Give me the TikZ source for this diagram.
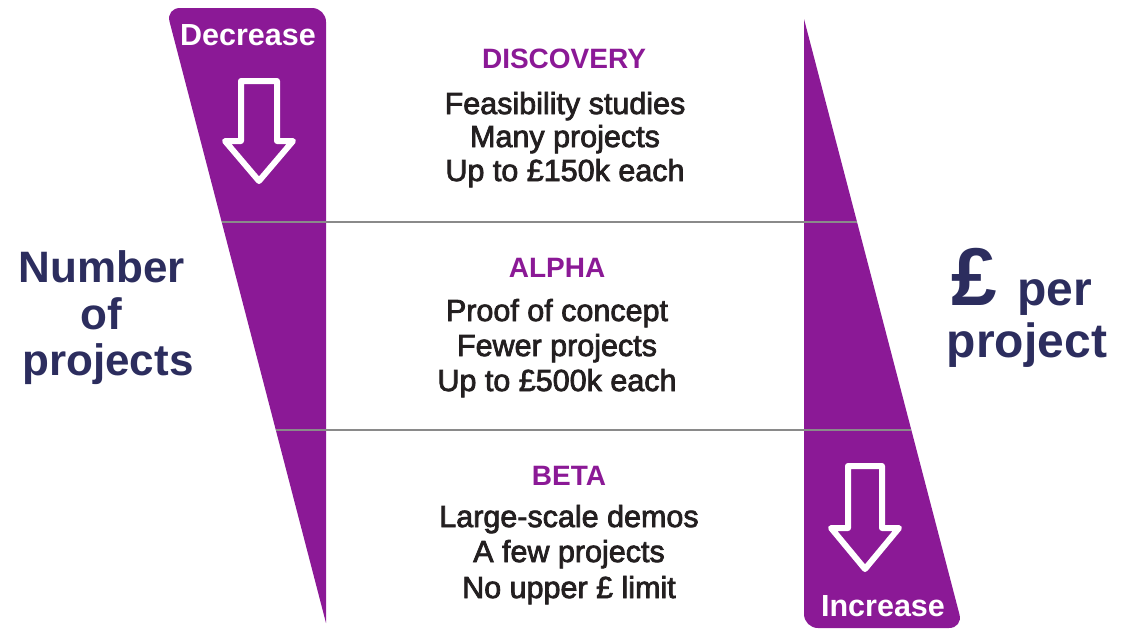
\documentclass[tikz,border=0pt]{standalone}
\usepackage{fontspec}
\setmainfont{Liberation Sans}
\newfontfamily\medfont{Liberation Sans}[RawFeature={embolden=2.5}]
\definecolor{wedge}{RGB}{139,25,150}
\definecolor{navy}{RGB}{44,45,94}
\definecolor{ink}{RGB}{35,31,32}
\definecolor{rule}{RGB}{138,138,138}
\tikzset{
  wedgefill/.style={fill=wedge},
  hollowarrow/.style={draw=white, line width=6pt, line join=round},
  divider/.style={draw=rule, line width=2pt},
  stagetitle/.style={text=wedge, font=\fontsize{28}{28}\selectfont\bfseries, anchor=base, inner sep=0pt},
  stageline/.style={text=ink, font=\medfont\fontsize{30.5}{30.5}\selectfont, anchor=base, inner sep=0pt},
  axislabel/.style={text=navy, font=\fontsize{44}{44}\selectfont\bfseries, anchor=base, inner sep=0pt},
  bigaxis/.style={text=navy, font=\fontsize{48}{48}\selectfont\bfseries, anchor=base, inner sep=0pt},
  wedgelabel/.style={text=white, font=\fontsize{30.5}{30.5}\selectfont\bfseries, anchor=base, inner sep=0pt},
}
\begin{document}
\begin{tikzpicture}[x=1pt,y=-1pt]
\useasboundingbox (0,0) rectangle (1126,630);

% left wedge: number of projects shrinks downwards
\fill[wedgefill] (326,623) -- (326,300) [rounded corners=14pt] -- (326,8) -- (166,8)
  -- (242,300) [sharp corners] -- cycle;
% right wedge: money per project grows downwards
\fill[wedgefill] (804,19) -- (804,300) [rounded corners=14pt] -- (804,628) -- (963,628)
  -- (877.4,300) [sharp corners] -- cycle;

% stage dividers
\coordinate (d1l) at (221.7,222);
\coordinate (d1r) at (857,222);
\coordinate (d2l) at (275.8,430);
\coordinate (d2r) at (911.3,430);
\draw[divider] (d1l) -- (d1r);
\draw[divider] (d2l) -- (d2r);

% hollow down arrows
\draw[hollowarrow] (241,81) -- (277,81) -- (277,141) -- (293,141) -- (259,181)
  -- (225,141) -- (241,141) -- cycle;
\draw[hollowarrow] (848,466) -- (882,466) -- (882,528) -- (899,528) -- (865,569)
  -- (831,528) -- (848,528) -- cycle;

% wedge captions
\node[wedgelabel] (dec) at (248,45) {Decrease};
\node[wedgelabel] (inc) at (883,616) {Increase};

% axis labels
\node[axislabel] (num) at (102,282) {Number};
\node[axislabel] (of) at (101,329) {of};
\node[axislabel] (projl) at (108,375) {projects};
\node[text=navy, font=\fontsize{82}{82}\selectfont\bfseries, anchor=base, inner sep=0pt] (pound) at (974,305) {£};
\node[bigaxis] (per) at (1055,305) {per};
\node[bigaxis] (projr) at (1027,357) {project};

% discovery stage
\node[stagetitle] (disc) at (564,68) {DISCOVERY};
\node[stageline] (disc1) at (565,114) {Feasibility studies};
\node[stageline] (disc2) at (565,147) {Many projects};
\node[stageline] (disc3) at (565,181) {Up to £150k each};

% alpha stage
\node[stagetitle] (alpha) at (557,277) {ALPHA};
\node[stageline] (alpha1) at (557,321) {Proof of concept};
\node[stageline] (alpha2) at (557,356) {Fewer projects};
\node[stageline] (alpha3) at (557,391) {Up to £500k each};

% beta stage
\node[stagetitle] (beta) at (569,485) {BETA};
\node[stageline] (beta1) at (569,527) {Large-scale demos};
\node[stageline] (beta2) at (569,562) {A few projects};
\node[stageline] (beta3) at (569,598) {No upper £ limit};
\end{tikzpicture}
\end{document}
